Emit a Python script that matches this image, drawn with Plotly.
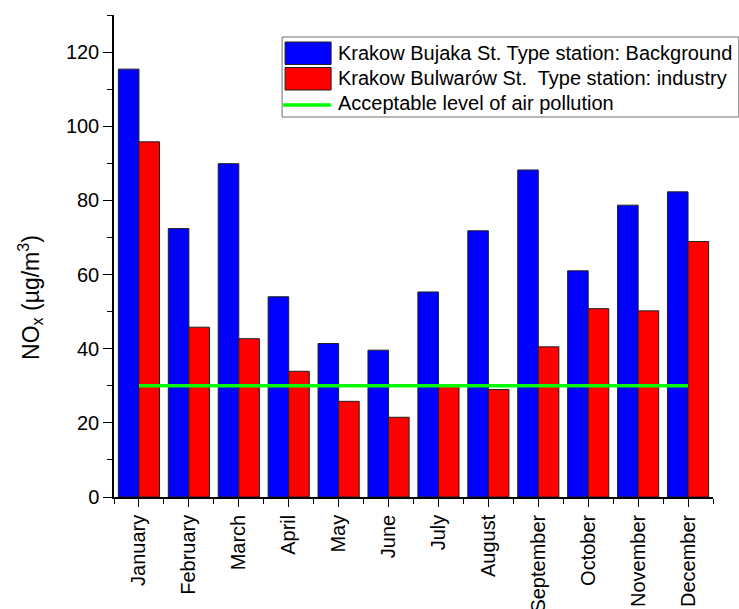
import plotly.graph_objects as go

months = ["January", "February", "March", "April", "May", "June", "July",
          "August", "September", "October", "November", "December"]
bujaka = [115.4, 72.4, 89.9, 54.0, 41.4, 39.6, 55.3, 71.8, 88.2, 61.0, 78.7, 82.3]
bulwarow = [95.8, 45.8, 42.7, 33.9, 25.8, 21.5, 29.8, 29.0, 40.5, 50.8, 50.2, 68.9]
acceptable = [30, 30, 30, 30, 30, 30, 30, 30, 30, 30, 30, 30]

series_names = ["Krakow Bujaka St. Type station: Background",
                "Krakow Bulwarów St.  Type station: industry",
                "Acceptable level of air pollution"]

W, H = 739, 609
L, R, T, B = 114, 712.7, 15, 497
FONT = "Liberation Sans, Arial, sans-serif"

def px(x):
    return (x - L) / (R - L)

def py(y):
    return (B - y) / (B - T)

xi = list(range(len(months)))

fig = go.Figure()
fig.add_trace(go.Bar(x=xi, y=bujaka, name=series_names[0],
                     marker=dict(color="#0000FF", line=dict(color="#202020", width=1))))
fig.add_trace(go.Bar(x=xi, y=bulwarow, name=series_names[1],
                     marker=dict(color="#FF0000", line=dict(color="#202020", width=1))))
fig.add_trace(go.Scatter(x=xi, y=acceptable, mode="lines", name=series_names[2],
                         line=dict(color="#00FF00", width=3.5)))

shapes = []
annotations = []
# legend box
shapes.append(dict(type="rect", xref="paper", yref="paper",
                   x0=px(282), x1=px(738.5), y0=py(37), y1=py(117),
                   line=dict(color="#707070", width=1), fillcolor="white", layer="above"))
shapes.append(dict(type="rect", xref="paper", yref="paper",
                   x0=px(285), x1=px(331), y0=py(42), y1=py(64.5),
                   line=dict(color="#202020", width=1), fillcolor="#0000FF", layer="above"))
shapes.append(dict(type="rect", xref="paper", yref="paper",
                   x0=px(285), x1=px(331), y0=py(67.5), y1=py(90),
                   line=dict(color="#202020", width=1), fillcolor="#FF0000", layer="above"))
shapes.append(dict(type="line", xref="paper", yref="paper",
                   x0=px(283), x1=px(331), y0=py(105), y1=py(105),
                   line=dict(color="#00FF00", width=3.5), layer="above"))
for name, yc in zip(series_names, [53, 78, 103]):
    annotations.append(dict(text=name, xref="paper", yref="paper", x=px(336), y=py(yc),
                            xanchor="left", yanchor="middle", showarrow=False,
                            font=dict(family=FONT, size=20, color="black")))
# y title
annotations.append(dict(text="NO<sub>x</sub> (µg/m<sup>3</sup>)", xref="paper", yref="paper",
                        x=px(30), y=py(297), xanchor="center", yanchor="middle",
                        textangle=-90, showarrow=False,
                        font=dict(family=FONT, size=23, color="black")))

fig.update_layout(
    width=W, height=H,
    margin=dict(l=L, r=W - R, t=T, b=H - B, pad=0, autoexpand=False),
    paper_bgcolor="white", plot_bgcolor="white",
    barmode="group", bargap=0.176, bargroupgap=0,
    showlegend=False,
    shapes=shapes, annotations=annotations,
    font=dict(family=FONT, size=20, color="black"),
)
fig.update_xaxes(range=[-0.5, 11.5], tickmode="array", tickvals=xi, ticktext=months,
                 tickangle=-90, ticks="outside", ticklen=8, tickwidth=1, tickcolor="black",
                 showline=True, linecolor="black", linewidth=1.5, showgrid=False, zeroline=False,
                 automargin=False,
                 tickfont=dict(family=FONT, size=20, color="black"),
                 minor=dict(tick0=0.5, dtick=1, ticks="outside", ticklen=5, tickcolor="black",
                            tickwidth=1, showgrid=False))
fig.update_yaxes(range=[0, 130], tickmode="linear", tick0=0, dtick=20,
                 ticks="outside", ticklen=9, tickwidth=1, tickcolor="black",
                 showline=True, linecolor="black", linewidth=1.5, showgrid=False, zeroline=False,
                 automargin=False,
                 tickfont=dict(family=FONT, size=20, color="black"),
                 minor=dict(dtick=10, ticks="outside", ticklen=5, tickcolor="black",
                            tickwidth=1, showgrid=False))

fig.write_html("out.html")
